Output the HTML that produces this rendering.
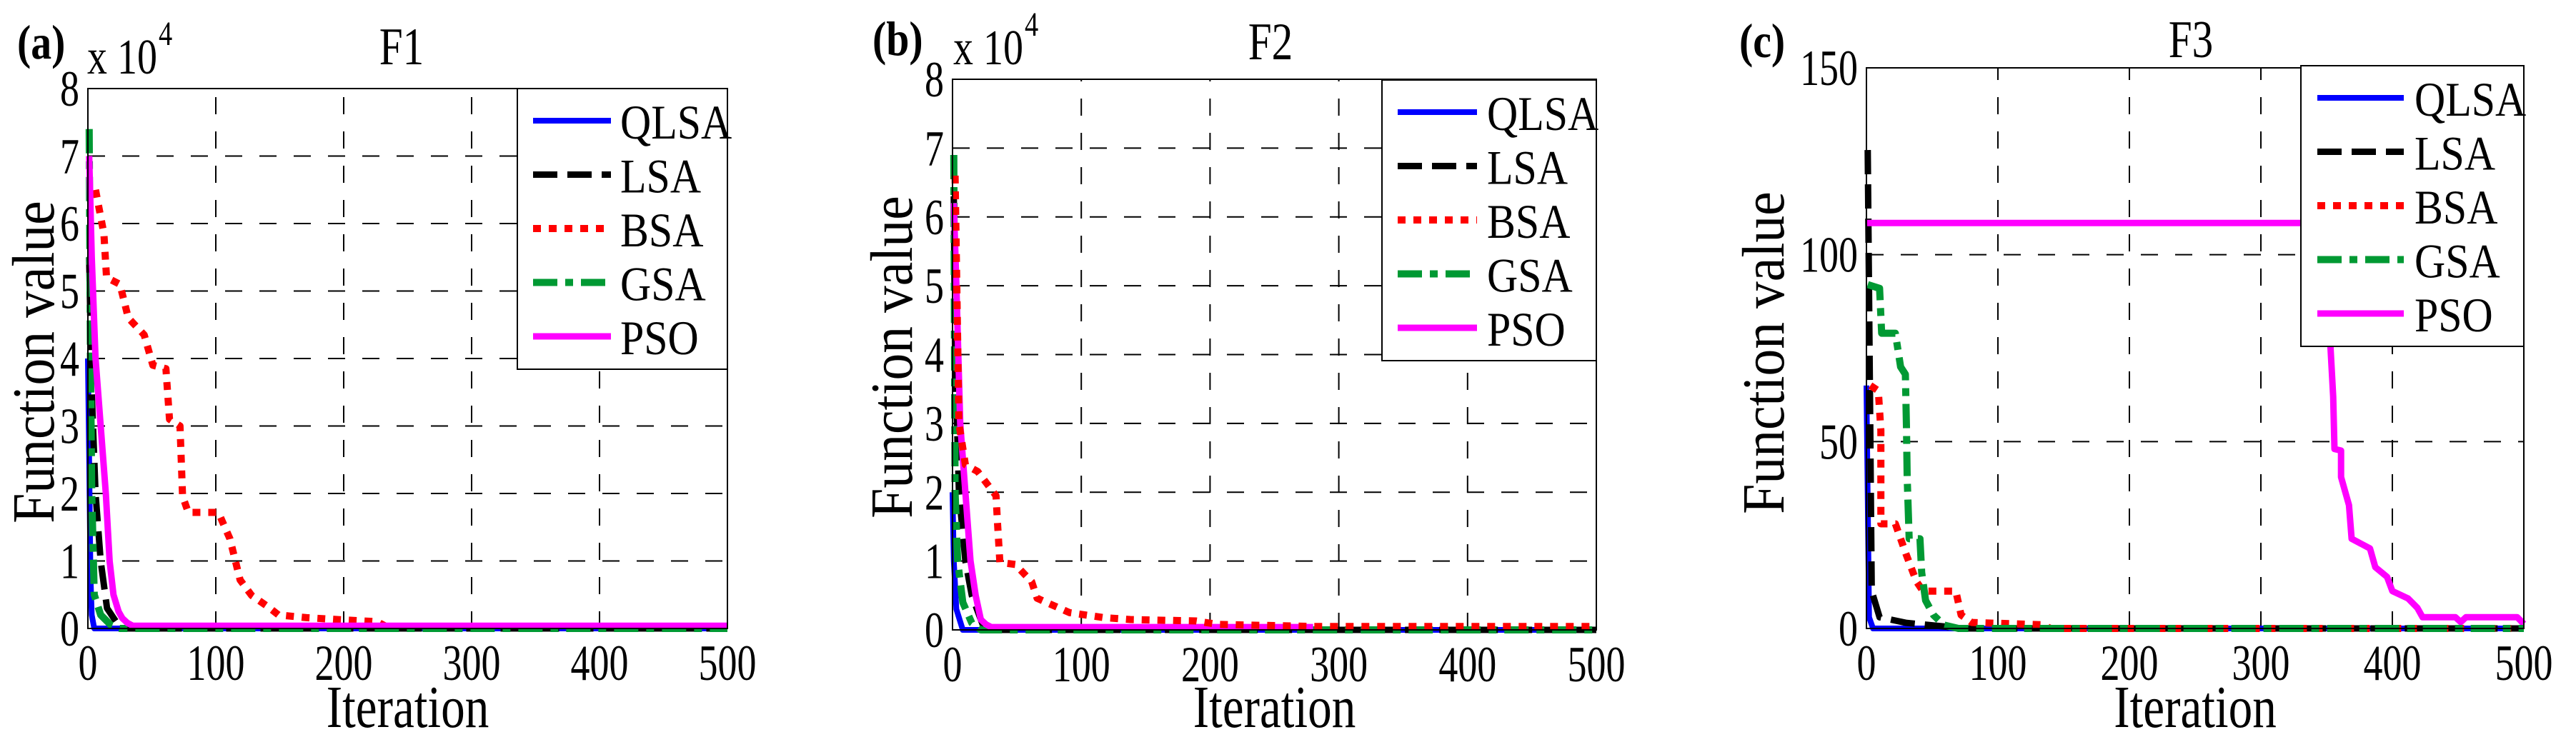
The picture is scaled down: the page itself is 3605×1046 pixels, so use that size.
<!DOCTYPE html>
<html><head><meta charset="utf-8"><style>
html,body{margin:0;padding:0;background:#fff;}
svg{display:block;font-family:"Liberation Serif","Times New Roman",serif;}
</style></head><body>
<svg id="fig" width="3605" height="1046" viewBox="0 0 3605 1046" xmlns="http://www.w3.org/2000/svg"></svg>
<script>
const ticksX = [0,100,200,300,400,500];
const ticksYa = [0,1,2,3,4,5,6,7,8];
const ticksYc = [0,50,100,150];
const seriesNames = ["QLSA","LSA","BSA","GSA","PSO"];

const a_qlsa_x = [0,1,2,3,5,500];
const a_qlsa_y = [4.0,2.5,0.8,0.2,0,0];
const a_lsa_x = [1,3,6,10,15,22,30,500];
const a_lsa_y = [5.5,3.5,2.0,1.0,0.3,0.1,0,0];
const a_bsa_x = [6,12.5,14.6,25,31.6,44,50.8,61,63.8,72,74,78.5,102,111,119,128,141,149,171,197,226,232];
const a_bsa_y = [6.5,5.85,5.2,5.1,4.6,4.35,3.9,3.85,3.1,3.0,1.96,1.72,1.72,1.33,0.72,0.49,0.32,0.2,0.16,0.13,0.1,0.04];
const a_gsa_x = [1,2,3,5,10,18,25,500];
const a_gsa_y = [7.4,4.0,2.0,0.5,0.2,0.05,0,0];
const a_pso_x = [1,3,6,10,14,17,20,24,27,31,35,500];
const a_pso_y = [7.0,5.5,4.0,3.0,2.0,1.0,0.5,0.25,0.15,0.08,0.04,0.04];

const b_qlsa_x = [0,1,3,8,500];
const b_qlsa_y = [2.0,1.0,0.3,0,0];
const b_lsa_x = [1,2,5,10,15,25,500];
const b_lsa_y = [6.3,4.0,2.0,1.0,0.5,0,0];
const b_bsa_x = [2,5,10,19.6,33.8,35,36.8,48.7,61.5,65.7,74,91,117,138,189,206,280,500];
const b_bsa_y = [6.6,3.0,2.4,2.3,1.95,1.53,0.98,0.95,0.7,0.46,0.39,0.25,0.18,0.15,0.13,0.08,0.05,0.05];
const b_gsa_x = [1,2,4,8,15,22,500];
const b_gsa_y = [6.9,2.0,1.0,0.4,0.1,0,0];
const b_pso_x = [1,3,6,10,14,18,22,26,30,280];
const b_pso_y = [6.2,5.0,3.0,2.0,1.0,0.5,0.15,0.08,0.04,0.04];

const c_qlsa_x = [0,2,5,500];
const c_qlsa_y = [65,3,0,0];
const c_lsa_x = [1,4,10,30,60,70,500];
const c_lsa_y = [128,10,3,1.5,0.5,0,0];
const c_bsa_x = [3,9,11,11,22,30,38,43,68,72,80,134,140,500];
const c_bsa_y = [65,63.6,53,28,28,20,12.6,10,10,3.6,1.6,1,0,0];
const c_gsa_x = [1,10,11.6,22,26,29.6,30.5,31,32.5,40.7,42,45,51,59,70,500];
const c_gsa_y = [92,91,79,79,70,68,53,40.5,24,24,15,7.5,3.6,0.9,0,0];
const c_pso_x = [0,350,353,355,356,361,361,367,369,383,387,396,400,412,419,423,448,452,456,495,500];
const c_pso_y = [108.5,108.5,75,62,48,47.6,40.5,33,24,21.4,16.4,13.8,10,8,5.5,3,3,1.7,3,3,1.2];

const NS = "http://www.w3.org/2000/svg";
const svg = document.getElementById('fig');
function mk(tag, attrs, parent){const e=document.createElementNS(NS,tag);for(const k in attrs)e.setAttribute(k,attrs[k]);(parent||svg).appendChild(e);return e;}
function txt(parent,x,y,str,size,sx,anchor,rot,bold){
  const t=mk('text',{x:0,y:0,"font-size":size,"text-anchor":anchor||"start",
    transform:`translate(${x},${y})${rot?' rotate(-90)':''} scale(${sx},1)`},parent);
  if(bold) t.setAttribute('font-weight','bold');
  t.textContent=str; return t;
}

const styles = {
  QLSA:{stroke:"#0000ff",w:8,dash:null},
  LSA:{stroke:"#000000",w:9,dash:"34 14"},
  BSA:{stroke:"#ff0000",w:10,dash:"11 11"},
  GSA:{stroke:"#009933",w:10,dash:"34 11 11 11"},
  PSO:{stroke:"#ff00ff",w:9,dash:null}
};

function panel(p){
  const g = mk('g',{});
  
  
  const sx = v => p.x0 + (v - p.xmin)/(p.xmax - p.xmin)*(p.x1 - p.x0);
  const sy = v => p.y0 - (v - p.ymin)/(p.ymax - p.ymin)*(p.y0 - p.y1);
  ticksX.forEach(t=>{ if(t>p.xmin && t<p.xmax){ const l=mk('line',{x1:sx(t),x2:sx(t),y1:p.y0,y2:p.y1,stroke:"#000","stroke-width":2,"stroke-dasharray":"24 24"},g);
      }});
  p.ticksY.forEach(t=>{ if(t>p.ymin && t<p.ymax){ const l=mk('line',{x1:p.x0,x2:p.x1,y1:sy(t),y2:sy(t),stroke:"#000","stroke-width":2,"stroke-dasharray":"24 24"},g);
      }});
  p.series.forEach(s=>{
    const st=styles[s.name];
    const pts=s.x.map((xv,i)=>sx(xv).toFixed(1)+","+sy(s.y[i]).toFixed(1)).join(" ");
    const pl=mk('polyline',{points:pts,fill:"none",stroke:st.stroke,"stroke-width":st.w,"stroke-linejoin":"round"},g);
    if(st.dash) pl.setAttribute('stroke-dasharray',st.dash);
    
    
  });
  const box=mk('rect',{x:p.x0,y:p.y1,width:p.x1-p.x0,height:p.y0-p.y1,fill:"none",stroke:"#000","stroke-width":2},g);
   
  ticksX.forEach(t=>{ const tx=txt(g,sx(t),p.y0+72,String(t),71,0.76,"middle");
      });
  p.ticksY.forEach(t=>{ const tx=txt(g,p.x0-12,sy(t)+24,String(t),71,0.76,"end");
      });
  const xt=txt(g,(p.x0+p.x1)/2,1018,"Iteration",84,0.8,"middle");
   
  const yt=txt(g,p.ylx,p.yly,"Function value",84,0.9,"middle",true);
   
  const ti=txt(g,p.tx,p.ty,p.title,74,0.8,"middle");
   
  const lb=txt(g,p.lx,p.ly,p.label,68,0.85,"start",false,true);
   
  if(p.exp){
    const ex=txt(g,p.ex,p.ey,"x 10",70,0.8,"start");
     
    const sup=txt(g,p.ex+100,p.ey-40,"4",48,0.8,"start");
     
  }
  const lg=mk('g',{},g);
   
  mk('rect',{x:p.gx0,y:p.gy0,width:p.gx1-p.gx0,height:p.gy1-p.gy0,fill:"#fff",stroke:"#000","stroke-width":2},lg);
  seriesNames.forEach((n,i)=>{
    const st=styles[n]; const yy=p.gy0+45+i*75.5;
    const e=mk('g',{},lg);
    
    
    const ln=mk('line',{x1:p.gx0+p.lsx,x2:p.gx0+p.lex,y1:yy,y2:yy,stroke:st.stroke,"stroke-width":st.w},e);
    if(st.dash) ln.setAttribute('stroke-dasharray',st.dash);
    txt(e,p.gx0+p.ltx,yy+25,n,68,0.88,"start");
  });
}

panel({id:'f1',x0:123,x1:1018,y0:880,y1:124,xmin:0,xmax:500,ymin:0,ymax:8,ticksY:ticksYa,
  series:[{name:"QLSA",x:a_qlsa_x,y:a_qlsa_y},{name:"LSA",x:a_lsa_x,y:a_lsa_y},{name:"BSA",x:a_bsa_x,y:a_bsa_y},{name:"GSA",x:a_gsa_x,y:a_gsa_y},{name:"PSO",x:a_pso_x,y:a_pso_y}],
  ylx:75,yly:507,tx:562,ty:90,title:"F1",lx:24,ly:82,label:"(a)",exp:true,ex:122,ey:103,
  gx0:724,gx1:1018,gy0:124,gy1:517,lsx:22,lex:131,ltx:144});
panel({id:'f2',x0:1333,x1:2234,y0:882,y1:111,xmin:0,xmax:500,ymin:0,ymax:8,ticksY:ticksYa,
  series:[{name:"QLSA",x:b_qlsa_x,y:b_qlsa_y},{name:"LSA",x:b_lsa_x,y:b_lsa_y},{name:"GSA",x:b_gsa_x,y:b_gsa_y},{name:"PSO",x:b_pso_x,y:b_pso_y},{name:"BSA",x:b_bsa_x,y:b_bsa_y}],
  ylx:1276,yly:500,tx:1778,ty:83,title:"F2",lx:1221,ly:77,label:"(b)",exp:true,ex:1334,ey:90,
  gx0:1934,gx1:2234,gy0:112,gy1:505,lsx:22,lex:133,ltx:147});
panel({id:'f3',x0:2612,x1:3532,y0:880,y1:95,xmin:0,xmax:500,ymin:0,ymax:150,ticksY:ticksYc,
  series:[{name:"QLSA",x:c_qlsa_x,y:c_qlsa_y},{name:"LSA",x:c_lsa_x,y:c_lsa_y},{name:"BSA",x:c_bsa_x,y:c_bsa_y},{name:"PSO",x:c_pso_x,y:c_pso_y},{name:"GSA",x:c_gsa_x,y:c_gsa_y}],
  ylx:2496,yly:494,tx:3066,ty:80,title:"F3",lx:2434,ly:80,label:"(c)",exp:false,
  gx0:3220,gx1:3532,gy0:92,gy1:485,lsx:23,lex:144,ltx:159});
</script>
</body></html>
